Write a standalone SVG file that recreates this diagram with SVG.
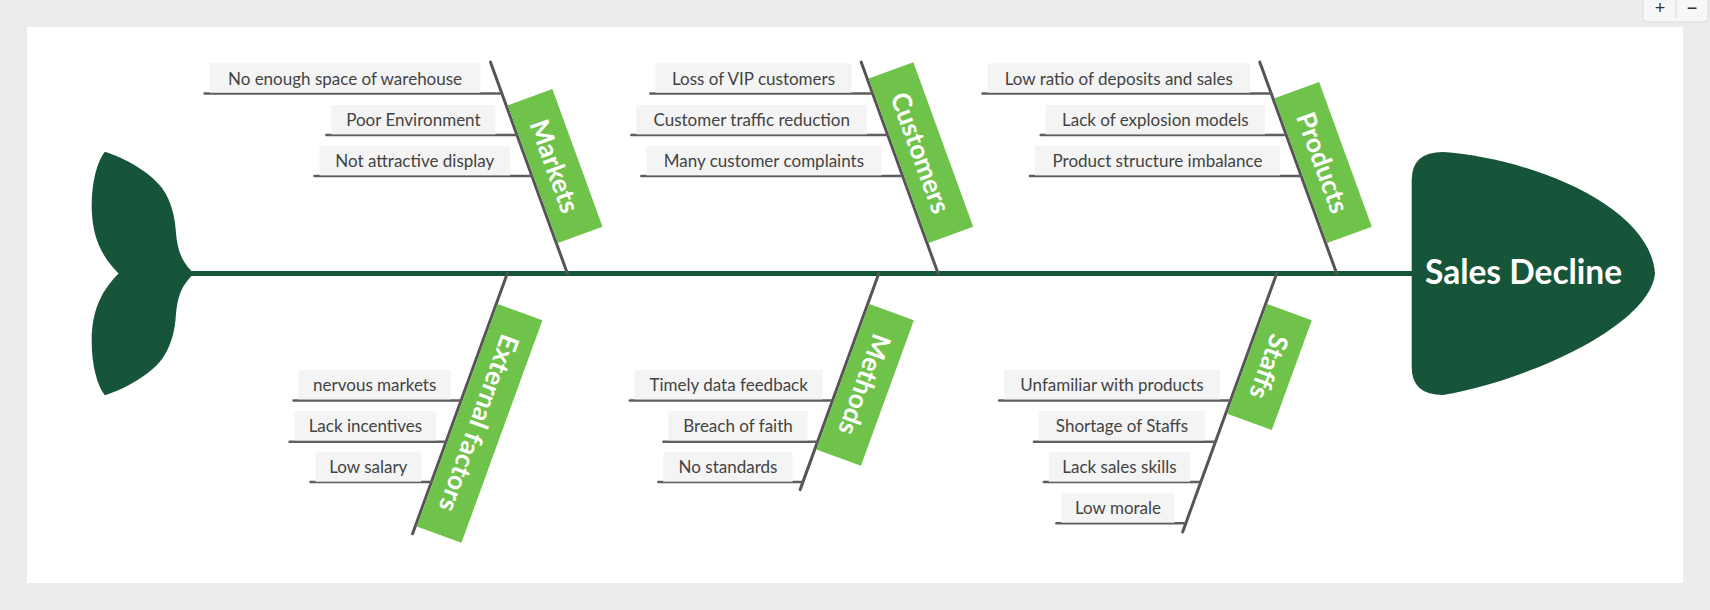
<svg xmlns="http://www.w3.org/2000/svg" width="1710" height="610" viewBox="0 0 1710 610">
<style>
.fish{fill:#17553a}
.spine{stroke:#17553a;stroke-width:5;fill:none}
.bone{stroke:#555;stroke-width:3;stroke-linecap:round;fill:none}
.ul{stroke:#5e5e5e;stroke-width:2.5;stroke-linecap:round;fill:none}
.box{fill:#f4f4f4}
.cause{font-family:Lato,"Liberation Sans",sans-serif;font-size:17px;fill:#434343;text-anchor:middle}
.cat{fill:#70c34a}
.catt{font-family:Lato,"Liberation Sans",sans-serif;font-weight:bold;font-size:26.5px;fill:#fff;text-anchor:middle;dominant-baseline:central}
.head{font-family:Lato,"Liberation Sans",sans-serif;font-weight:bold;font-size:33.5px;fill:#fff}
</style>
<rect x="0" y="0" width="1710" height="610" fill="#ececec"/>
<rect x="27" y="27" width="1656" height="556" fill="#ffffff"/>
<g id="zoom-controls">
<rect x="1643" y="-6" width="65" height="28" rx="4" fill="#f7f7f7" stroke="#dcdcdc"/>
<line x1="1676" y1="0" x2="1676" y2="18" stroke="#dcdcdc"/>
<text x="1660" y="14" font-family="'Liberation Sans',sans-serif" font-size="18" fill="#333" text-anchor="middle">+</text>
<text x="1692" y="14" font-family="'Liberation Sans',sans-serif" font-size="18" fill="#333" text-anchor="middle">−</text>
</g>

<g id="connectors">
<line class="spine" x1="188" y1="273.5" x2="1413" y2="273.5"/>
<g transform="translate(567.4,273.5) rotate(-20)"><line class="bone" x1="0" y1="0" x2="0" y2="-225"/></g>
<g transform="translate(938.1,273.5) rotate(-20)"><line class="bone" x1="0" y1="0" x2="0" y2="-225"/></g>
<g transform="translate(1336.7,273.5) rotate(-20)"><line class="bone" x1="0" y1="0" x2="0" y2="-225"/></g>
<g transform="translate(507.3,273.5) rotate(20)"><line class="bone" x1="0" y1="0" x2="0" y2="277"/></g>
<g transform="translate(878.8,273.5) rotate(20)"><line class="bone" x1="0" y1="0" x2="0" y2="230"/></g>
<g transform="translate(1276.7,273.5) rotate(20)"><line class="bone" x1="0" y1="0" x2="0" y2="275"/></g>
<line class="ul" x1="204.6" y1="93.5" x2="501.9" y2="93.5"/>
<line class="ul" x1="326.3" y1="135" x2="517" y2="135"/>
<line class="ul" x1="314.5" y1="176" x2="531.9" y2="176"/>
<line class="ul" x1="650.4" y1="93.5" x2="872.6" y2="93.5"/>
<line class="ul" x1="631.4" y1="135" x2="887.7" y2="135"/>
<line class="ul" x1="641.3" y1="176" x2="902.6" y2="176"/>
<line class="ul" x1="982.5" y1="93.5" x2="1271.2" y2="93.5"/>
<line class="ul" x1="1040.6" y1="135" x2="1286.3" y2="135"/>
<line class="ul" x1="1030" y1="176" x2="1301.2" y2="176"/>
<line class="ul" x1="293.5" y1="400.5" x2="461.1" y2="400.5"/>
<line class="ul" x1="289.6" y1="441.7" x2="446.1" y2="441.7"/>
<line class="ul" x1="310.5" y1="482" x2="431.4" y2="482"/>
<line class="ul" x1="629.8" y1="400.5" x2="832.6" y2="400.5"/>
<line class="ul" x1="663.4" y1="441.7" x2="817.6" y2="441.7"/>
<line class="ul" x1="658.3" y1="482" x2="802.9" y2="482"/>
<line class="ul" x1="999.1" y1="400.5" x2="1230.5" y2="400.5"/>
<line class="ul" x1="1033.9" y1="441.7" x2="1215.5" y2="441.7"/>
<line class="ul" x1="1043.8" y1="482" x2="1200.8" y2="482"/>
<line class="ul" x1="1056.4" y1="523.3" x2="1185.8" y2="523.3"/>
</g>

<g id="tail">
<path class="fish" d="M118.6,273.5 C101,256 92,236 91.7,207 C91.5,182 97,162 104.8,151.7 C125,158 150,172 162,188 C172,202 175,218 176,233 C177,246 180,256 185,263 C187,266 189,268.5 191,270.5 L191,276.5 C189,278.5 187,281 185,284 C180,291 177,301 176,314 C175,329 172,345 162,359 C150,375 125,389 104.8,395.3 C97,385 91.5,365 91.7,340 C92,311 101,291 118.6,273.5 Z"/>
</g>

<g id="head">
<path class="fish" d="M1411.7,180 Q1411.7,152 1443,152 C1530,158 1650,205 1655,273.5 C1650,325 1530,380 1443,395 Q1411.7,395 1411.7,367 Z"/>
<text class="head" x="1425" y="284">Sales Decline</text>
</g>

<g id="cat-markets" transform="translate(567.4,273.5) rotate(-20)">
<rect class="cat" x="1.5" y="-178.5" width="47.5" height="146.5"/>
<text class="catt" transform="translate(25.25,-105.25) rotate(90)">Markets</text>
</g>
<g id="cat-customers" transform="translate(938.1,273.5) rotate(-20)">
<rect class="cat" x="1.5" y="-207" width="47.5" height="175"/>
<text class="catt" transform="translate(25.25,-119.5) rotate(90)">Customers</text>
</g>
<g id="cat-products" transform="translate(1336.7,273.5) rotate(-20)">
<rect class="cat" x="1.5" y="-186" width="47.5" height="154"/>
<text class="catt" transform="translate(25.25,-109) rotate(90)">Products</text>
</g>
<g id="cat-external" transform="translate(507.3,273.5) rotate(20)">
<rect class="cat" x="1.5" y="32" width="47.5" height="236.7"/>
<text class="catt" transform="translate(25.25,150.35) rotate(90)">External factors</text>
</g>
<g id="cat-methods" transform="translate(878.8,273.5) rotate(20)">
<rect class="cat" x="1.5" y="32" width="47.5" height="154.8"/>
<text class="catt" transform="translate(25.25,109.4) rotate(90)">Methods</text>
</g>
<g id="cat-staffs" transform="translate(1276.7,273.5) rotate(20)">
<rect class="cat" x="1.5" y="32" width="47.5" height="116.8"/>
<text class="catt" transform="translate(25.25,90.4) rotate(90)">Staffs</text>
</g>

<g id="m1"><rect class="box" x="209.6" y="63.3" width="270.8" height="29.4"/><text class="cause" x="345" y="84.5">No enough space of warehouse</text></g>
<g id="m2"><rect class="box" x="331.3" y="105" width="164.1" height="29.4"/><text class="cause" x="413.4" y="126">Poor Environment</text></g>
<g id="m3"><rect class="box" x="319.5" y="146" width="190.5" height="29.4"/><text class="cause" x="414.8" y="167">Not attractive display</text></g>
<g id="c1"><rect class="box" x="655.4" y="63.3" width="196.1" height="29.4"/><text class="cause" x="753.5" y="84.5">Loss of VIP customers</text></g>
<g id="c2"><rect class="box" x="636.4" y="105" width="230.5" height="29.4"/><text class="cause" x="751.7" y="126">Customer traffic reduction</text></g>
<g id="c3"><rect class="box" x="646.3" y="146" width="235.2" height="29.4"/><text class="cause" x="763.9" y="167">Many customer complaints</text></g>
<g id="p1"><rect class="box" x="987.5" y="63.3" width="262.5" height="29.4"/><text class="cause" x="1118.8" y="84.5">Low ratio of deposits and sales</text></g>
<g id="p2"><rect class="box" x="1045.6" y="105" width="219.4" height="29.4"/><text class="cause" x="1155.3" y="126">Lack of explosion models</text></g>
<g id="p3"><rect class="box" x="1035" y="146" width="245" height="29.4"/><text class="cause" x="1157.5" y="167">Product structure imbalance</text></g>
<g id="e1"><rect class="box" x="298.5" y="370" width="152.3" height="29.4"/><text class="cause" x="374.7" y="391">nervous markets</text></g>
<g id="e2"><rect class="box" x="294.6" y="411" width="141.5" height="29.4"/><text class="cause" x="365.4" y="432">Lack incentives</text></g>
<g id="e3"><rect class="box" x="315.5" y="452.3" width="105.6" height="29.4"/><text class="cause" x="368.3" y="473.3">Low salary</text></g>
<g id="t1"><rect class="box" x="634.8" y="370" width="187.8" height="29.4"/><text class="cause" x="728.7" y="391">Timely data feedback</text></g>
<g id="t2"><rect class="box" x="668.4" y="411" width="139.2" height="29.4"/><text class="cause" x="738" y="432">Breach of faith</text></g>
<g id="t3"><rect class="box" x="663.3" y="452.3" width="129.3" height="29.4"/><text class="cause" x="728" y="473.3">No standards</text></g>
<g id="s1"><rect class="box" x="1004.1" y="370" width="215.9" height="29.4"/><text class="cause" x="1112" y="391">Unfamiliar with products</text></g>
<g id="s2"><rect class="box" x="1038.9" y="411" width="166.1" height="29.4"/><text class="cause" x="1122" y="432">Shortage of Staffs</text></g>
<g id="s3"><rect class="box" x="1048.8" y="452.3" width="141.2" height="29.4"/><text class="cause" x="1119.4" y="473.3">Lack sales skills</text></g>
<g id="s4"><rect class="box" x="1061.4" y="493.3" width="113.1" height="29.4"/><text class="cause" x="1118" y="514.3">Low morale</text></g>
</svg>
